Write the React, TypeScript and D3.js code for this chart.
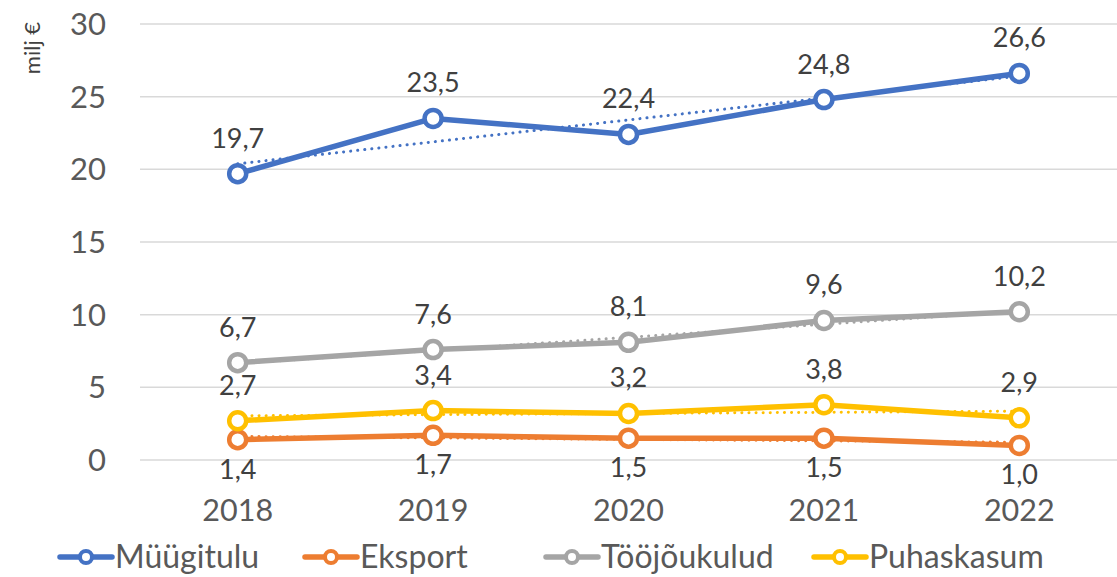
import React from "react";
import * as d3 from "d3";

const years = ["2018", "2019", "2020", "2021", "2022"];
const seriesNames = ["Müügitulu", "Eksport", "Tööjõukulud", "Puhaskasum"];
const colors = ["#4472C4", "#ED7D31", "#A5A5A5", "#FFC000"];
const muugitulu = [19.7, 23.5, 22.4, 24.8, 26.6];
const eksport = [1.4, 1.7, 1.5, 1.5, 1.0];
const toojoukulud = [6.7, 7.6, 8.1, 9.6, 10.2];
const puhaskasum = [2.7, 3.4, 3.2, 3.8, 2.9];
const labelBelow = [false, true, false, false];
const yTicks = [0, 5, 10, 15, 20, 25, 30];

const W = 1117, H = 577;
const FONT = "Lato, 'Open Sans', sans-serif";

function trend(vals: number[]) {
  const xs = vals.map((_, i) => i);
  const mx = d3.mean(xs)!, my = d3.mean(vals)!;
  const b = d3.sum(xs.map((x, i) => (x - mx) * (vals[i] - my))) / d3.sum(xs.map((x) => (x - mx) ** 2));
  const a = my - b * mx;
  return xs.map((x) => a + b * x);
}

export default function App() {
  const data = [muugitulu, eksport, toojoukulud, puhaskasum];
  const x = d3.scaleBand().domain(years).range([140, 1117]);
  const y = d3.scaleLinear().domain([0, 30]).range([460, 24]);
  const cx = (i: number) => x(years[i])! + x.bandwidth() / 2;
  const line = d3.line<number>().x((_, i) => cx(i)).y((v) => y(v));
  const legendX = [60, 305, 546, 814];
  return (
    <svg width={W} height={H} style={{ position: "absolute", left: 0, top: 0, background: "#fff" }} fontFamily={FONT}>
      {yTicks.map((t) => (
        <g key={t}>
          <line x1={140} x2={1117} y1={y(t)} y2={y(t)} stroke="#D9D9D9" strokeWidth={1.5} />
          <text x={106} y={y(t)} dy="0.35em" textAnchor="end" fontSize={31} fill="#595959">{t}</text>
        </g>
      ))}
      <text transform="translate(40,48) rotate(-90)" textAnchor="middle" fontSize={22} fill="#404040">milj €</text>
      {years.map((yr) => (
        <text key={yr} x={x(yr)! + x.bandwidth() / 2} y={521} textAnchor="middle" fontSize={30.5} fill="#595959">{yr}</text>
      ))}
      {data.map((vals, s) => (
        <g key={"t" + s}>
          <path d={line(trend(vals))!} fill="none" stroke={colors[s]} strokeWidth={3} strokeDasharray="0.1 7" strokeLinecap="round" />
        </g>
      ))}
      {data.map((vals, s) => (
        <g key={s}>
          <path d={line(vals)!} fill="none" stroke={colors[s]} strokeWidth={5.5} strokeLinejoin="round" />
          {vals.map((v, i) => (
            <circle key={i} cx={cx(i)} cy={y(v)} r={8.5} fill="#fff" stroke={colors[s]} strokeWidth={4.5} />
          ))}
        </g>
      ))}
      {data.map((vals, s) =>
        vals.map((v, i) => (
          <text key={s + "-" + i} x={cx(i)} y={labelBelow[s] ? y(v) + 39 : y(v) - 26} textAnchor="middle" fontSize={27} fill="#404040">
            {v.toFixed(1).replace(".", ",")}
          </text>
        ))
      )}
      {seriesNames.map((n, s) => (
        <g key={n}>
          <line x1={legendX[s]} x2={legendX[s] + 52} y1={557} y2={557} stroke={colors[s]} strokeWidth={5.5} strokeLinecap="round" />
          <circle cx={legendX[s] + 26} cy={557} r={6} fill="#fff" stroke={colors[s]} strokeWidth={4} />
          <text x={legendX[s] + 55} y={557} dy="0.35em" fontSize={32} fill="#595959">{n}</text>
        </g>
      ))}
    </svg>
  );
}
